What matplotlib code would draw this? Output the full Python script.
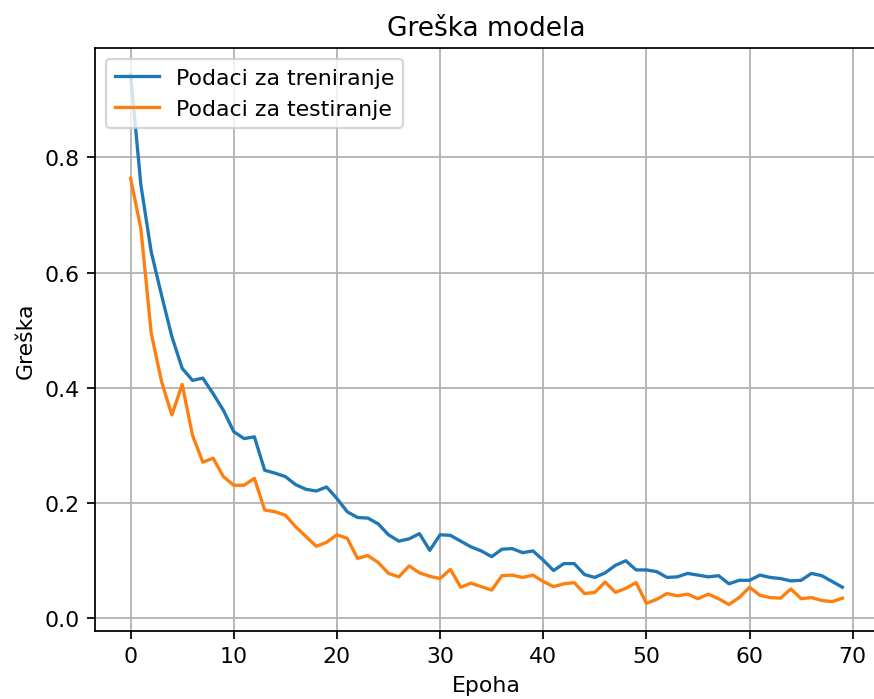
import matplotlib
matplotlib.use("Agg")
from matplotlib import pyplot as plt

# epoch index and loss values
epochs = list(range(70))

train_loss = [
    0.944, 0.752, 0.636, 0.561, 0.489, 0.434, 0.413, 0.417, 0.390, 0.361,
    0.324, 0.312, 0.315, 0.257, 0.252, 0.246, 0.232, 0.224, 0.221, 0.228,
    0.208, 0.185, 0.175, 0.174, 0.164, 0.145, 0.134, 0.138, 0.147, 0.118,
    0.145, 0.144, 0.134, 0.124, 0.117, 0.107, 0.120, 0.121, 0.114, 0.117,
    0.101, 0.083, 0.095, 0.095, 0.076, 0.071, 0.079, 0.092, 0.100, 0.084,
    0.084, 0.081, 0.071, 0.072, 0.078, 0.075, 0.072, 0.074, 0.060, 0.066,
    0.066, 0.075, 0.071, 0.069, 0.065, 0.066, 0.078, 0.074, 0.064, 0.054,
]

test_loss = [
    0.764, 0.676, 0.495, 0.411, 0.353, 0.406, 0.318, 0.271, 0.278, 0.246,
    0.231, 0.231, 0.243, 0.188, 0.185, 0.179, 0.159, 0.142, 0.125, 0.132,
    0.145, 0.139, 0.104, 0.109, 0.097, 0.078, 0.072, 0.091, 0.079, 0.073,
    0.069, 0.085, 0.054, 0.061, 0.055, 0.049, 0.074, 0.075, 0.071, 0.075,
    0.064, 0.055, 0.060, 0.062, 0.043, 0.045, 0.063, 0.045, 0.052, 0.062,
    0.026, 0.033, 0.043, 0.039, 0.042, 0.034, 0.042, 0.034, 0.024, 0.036,
    0.054, 0.040, 0.036, 0.035, 0.051, 0.034, 0.036, 0.031, 0.029, 0.035,
]

series_labels = ["Podaci za treniranje", "Podaci za testiranje"]

dpi = 158
fig = plt.figure(figsize=(874 / dpi, 700 / dpi), dpi=dpi)
# the reference is cropped on the right and bottom, so the axes runs past the edge
ax = fig.add_axes([95 / 874, 68 / 700, 783 / 874, 583 / 700])

ax.plot(epochs, train_loss, label=series_labels[0])
ax.plot(epochs, test_loss, label=series_labels[1])

ax.set_title("Greška modela")
ax.set_xlabel("Epoha")
ax.set_ylabel("Greška")
ax.set_xticks([0, 10, 20, 30, 40, 50, 60, 70])
ax.set_yticks([0.0, 0.2, 0.4, 0.6, 0.8])
ax.legend(loc="upper left")
ax.grid(True)

fig.savefig("out.png", dpi=dpi)
